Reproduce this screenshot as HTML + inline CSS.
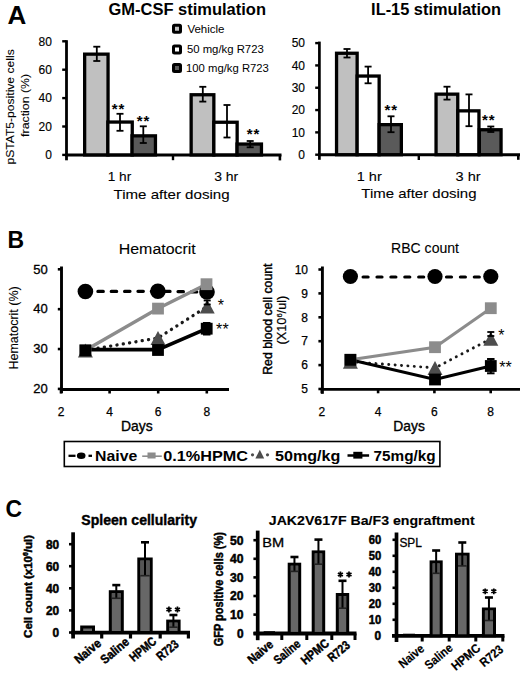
<!DOCTYPE html>
<html><head><meta charset="utf-8"><style>
html,body{margin:0;padding:0;background:#fff;}
svg{display:block;}
text{font-family:"Liberation Sans", sans-serif;}
</style></head><body>
<svg width="520" height="680" viewBox="0 0 520 680" font-family='"Liberation Sans", sans-serif'>
<rect width="520" height="680" fill="#fff"/>
<text x="7.60" y="23.80" font-size="26" font-weight="bold" textLength="18.80" lengthAdjust="spacingAndGlyphs" >A</text>
<text x="108.50" y="14.60" font-size="16" font-weight="bold" textLength="157.50" lengthAdjust="spacingAndGlyphs" >GM-CSF stimulation</text>
<text x="371.10" y="14.60" font-size="16" font-weight="bold" textLength="130.00" lengthAdjust="spacingAndGlyphs" >IL-15 stimulation</text>
<rect x="173.50" y="25.20" width="7.00" height="7.00" fill="#c0c0c0" rx="1" stroke="#000" stroke-width="3"/>
<rect x="173.50" y="45.90" width="7.00" height="7.00" fill="#fff" rx="1" stroke="#000" stroke-width="3"/>
<rect x="173.50" y="64.60" width="7.00" height="7.00" fill="#5a5a5a" rx="1" stroke="#000" stroke-width="3"/>
<text x="187.40" y="33.10" font-size="11.5" textLength="37.10" lengthAdjust="spacingAndGlyphs" >Vehicle</text>
<text x="186.90" y="53.30" font-size="11.5" textLength="76.90" lengthAdjust="spacingAndGlyphs" >50 mg/kg R723</text>
<text x="186.00" y="72.20" font-size="11.5" textLength="82.90" lengthAdjust="spacingAndGlyphs" >100 mg/kg R723</text>
<line x1="66.50" y1="40.20" x2="66.50" y2="160.30" stroke="#000" stroke-width="2.8" />
<line x1="65.00" y1="154.90" x2="281.50" y2="154.90" stroke="#000" stroke-width="3" />
<line x1="279.90" y1="154.90" x2="279.90" y2="160.40" stroke="#000" stroke-width="2.6" />
<line x1="173.00" y1="154.90" x2="173.00" y2="160.20" stroke="#000" stroke-width="2.4" />
<line x1="62.20" y1="154.90" x2="66.50" y2="154.90" stroke="#000" stroke-width="2.4" />
<text x="51.90" y="159.20" font-size="12" stroke="#000" stroke-width="0.15" text-anchor="end" >0</text>
<line x1="62.20" y1="126.50" x2="66.50" y2="126.50" stroke="#000" stroke-width="2.4" />
<text x="51.90" y="130.80" font-size="12" stroke="#000" stroke-width="0.15" text-anchor="end" >20</text>
<line x1="62.20" y1="98.10" x2="66.50" y2="98.10" stroke="#000" stroke-width="2.4" />
<text x="51.90" y="102.40" font-size="12" stroke="#000" stroke-width="0.15" text-anchor="end" >40</text>
<line x1="62.20" y1="69.70" x2="66.50" y2="69.70" stroke="#000" stroke-width="2.4" />
<text x="51.90" y="74.00" font-size="12" stroke="#000" stroke-width="0.15" text-anchor="end" >60</text>
<line x1="62.20" y1="41.30" x2="66.50" y2="41.30" stroke="#000" stroke-width="2.4" />
<text x="51.90" y="45.60" font-size="12" stroke="#000" stroke-width="0.15" text-anchor="end" >80</text>
<rect x="84.65" y="54.15" width="23.40" height="100.75" fill="#c0c0c0" stroke="#000" stroke-width="3.3"/>
<rect x="107.85" y="122.05" width="24.40" height="32.85" fill="#fff" stroke="#000" stroke-width="3.3"/>
<rect x="132.05" y="135.85" width="23.40" height="19.05" fill="#5a5a5a" stroke="#000" stroke-width="3.3"/>
<rect x="191.15" y="94.75" width="22.70" height="60.15" fill="#c0c0c0" stroke="#000" stroke-width="3.3"/>
<rect x="213.85" y="122.25" width="23.30" height="32.65" fill="#fff" stroke="#000" stroke-width="3.3"/>
<rect x="237.05" y="144.05" width="24.40" height="10.85" fill="#5a5a5a" stroke="#000" stroke-width="3.3"/>
<line x1="96.80" y1="46.70" x2="96.80" y2="61.00" stroke="#000" stroke-width="1.8" />
<line x1="93.30" y1="46.70" x2="100.30" y2="46.70" stroke="#000" stroke-width="1.8" />
<line x1="93.30" y1="61.00" x2="100.30" y2="61.00" stroke="#000" stroke-width="1.8" />
<line x1="120.00" y1="113.80" x2="120.00" y2="130.80" stroke="#000" stroke-width="1.8" />
<line x1="116.50" y1="113.80" x2="123.50" y2="113.80" stroke="#000" stroke-width="1.8" />
<line x1="116.50" y1="130.80" x2="123.50" y2="130.80" stroke="#000" stroke-width="1.8" />
<line x1="143.30" y1="126.30" x2="143.30" y2="143.00" stroke="#000" stroke-width="1.8" />
<line x1="139.80" y1="126.30" x2="146.80" y2="126.30" stroke="#000" stroke-width="1.8" />
<line x1="139.80" y1="143.00" x2="146.80" y2="143.00" stroke="#000" stroke-width="1.8" />
<line x1="202.80" y1="86.80" x2="202.80" y2="101.60" stroke="#000" stroke-width="1.8" />
<line x1="199.30" y1="86.80" x2="206.30" y2="86.80" stroke="#000" stroke-width="1.8" />
<line x1="199.30" y1="101.60" x2="206.30" y2="101.60" stroke="#000" stroke-width="1.8" />
<line x1="227.00" y1="105.00" x2="227.00" y2="137.50" stroke="#000" stroke-width="1.8" />
<line x1="223.50" y1="105.00" x2="230.50" y2="105.00" stroke="#000" stroke-width="1.8" />
<line x1="223.50" y1="137.50" x2="230.50" y2="137.50" stroke="#000" stroke-width="1.8" />
<line x1="250.20" y1="141.00" x2="250.20" y2="147.30" stroke="#000" stroke-width="1.8" />
<line x1="246.70" y1="141.00" x2="253.70" y2="141.00" stroke="#000" stroke-width="1.8" />
<line x1="246.70" y1="147.30" x2="253.70" y2="147.30" stroke="#000" stroke-width="1.8" />
<text x="114.60" y="113.80" font-size="15" font-weight="bold" text-anchor="middle" >*</text>
<text x="121.50" y="113.80" font-size="15" font-weight="bold" text-anchor="middle" >*</text>
<text x="139.55" y="125.70" font-size="15" font-weight="bold" text-anchor="middle" >*</text>
<text x="146.45" y="125.70" font-size="15" font-weight="bold" text-anchor="middle" >*</text>
<text x="249.55" y="138.70" font-size="15" font-weight="bold" text-anchor="middle" >*</text>
<text x="256.45" y="138.70" font-size="15" font-weight="bold" text-anchor="middle" >*</text>
<text x="107.70" y="181.00" font-size="13" stroke="#000" stroke-width="0.1" textLength="23.60" lengthAdjust="spacingAndGlyphs" >1 hr</text>
<text x="214.20" y="181.00" font-size="13" stroke="#000" stroke-width="0.1" textLength="24.10" lengthAdjust="spacingAndGlyphs" >3 hr</text>
<text x="113.50" y="198.50" font-size="13.5" stroke="#000" stroke-width="0.1" textLength="116.10" lengthAdjust="spacingAndGlyphs" >Time after dosing</text>
<text x="0" y="0" font-size="11.7" stroke="#000" stroke-width="0.1" textLength="115.30" lengthAdjust="spacingAndGlyphs" transform="translate(13.90,164.60) rotate(-90)" >pSTAT5-positive cells</text>
<text x="0" y="0" font-size="11.7" stroke="#000" stroke-width="0.1" textLength="63.00" lengthAdjust="spacingAndGlyphs" transform="translate(29.20,136.90) rotate(-90)" >fraction (%)</text>
<line x1="319.40" y1="41.60" x2="319.40" y2="159.80" stroke="#000" stroke-width="2.7" />
<line x1="318.00" y1="154.70" x2="520.00" y2="154.70" stroke="#000" stroke-width="3" />
<line x1="518.30" y1="154.70" x2="518.30" y2="159.80" stroke="#000" stroke-width="2.6" />
<line x1="418.80" y1="154.70" x2="418.80" y2="160.00" stroke="#000" stroke-width="2.4" />
<line x1="315.20" y1="154.70" x2="319.40" y2="154.70" stroke="#000" stroke-width="2.4" />
<text x="305.00" y="159.00" font-size="12" stroke="#000" stroke-width="0.15" text-anchor="end" >0</text>
<line x1="315.20" y1="132.38" x2="319.40" y2="132.38" stroke="#000" stroke-width="2.4" />
<text x="305.00" y="136.68" font-size="12" stroke="#000" stroke-width="0.15" text-anchor="end" >10</text>
<line x1="315.20" y1="110.06" x2="319.40" y2="110.06" stroke="#000" stroke-width="2.4" />
<text x="305.00" y="114.36" font-size="12" stroke="#000" stroke-width="0.15" text-anchor="end" >20</text>
<line x1="315.20" y1="87.74" x2="319.40" y2="87.74" stroke="#000" stroke-width="2.4" />
<text x="305.00" y="92.04" font-size="12" stroke="#000" stroke-width="0.15" text-anchor="end" >30</text>
<line x1="315.20" y1="65.42" x2="319.40" y2="65.42" stroke="#000" stroke-width="2.4" />
<text x="305.00" y="69.72" font-size="12" stroke="#000" stroke-width="0.15" text-anchor="end" >40</text>
<line x1="315.20" y1="43.10" x2="319.40" y2="43.10" stroke="#000" stroke-width="2.4" />
<text x="305.00" y="47.40" font-size="12" stroke="#000" stroke-width="0.15" text-anchor="end" >50</text>
<rect x="336.55" y="53.25" width="20.60" height="101.45" fill="#c0c0c0" stroke="#000" stroke-width="3.3"/>
<rect x="357.15" y="76.05" width="22.00" height="78.65" fill="#fff" stroke="#000" stroke-width="3.3"/>
<rect x="379.15" y="124.65" width="22.20" height="30.05" fill="#5a5a5a" stroke="#000" stroke-width="3.3"/>
<rect x="436.05" y="94.15" width="21.70" height="60.55" fill="#c0c0c0" stroke="#000" stroke-width="3.3"/>
<rect x="457.85" y="110.85" width="21.10" height="43.85" fill="#fff" stroke="#000" stroke-width="3.3"/>
<rect x="479.35" y="129.75" width="21.70" height="24.95" fill="#5a5a5a" stroke="#000" stroke-width="3.3"/>
<line x1="347.00" y1="49.00" x2="347.00" y2="57.50" stroke="#000" stroke-width="1.8" />
<line x1="343.50" y1="49.00" x2="350.50" y2="49.00" stroke="#000" stroke-width="1.8" />
<line x1="343.50" y1="57.50" x2="350.50" y2="57.50" stroke="#000" stroke-width="1.8" />
<line x1="368.10" y1="66.60" x2="368.10" y2="83.30" stroke="#000" stroke-width="1.8" />
<line x1="364.60" y1="66.60" x2="371.60" y2="66.60" stroke="#000" stroke-width="1.8" />
<line x1="364.60" y1="83.30" x2="371.60" y2="83.30" stroke="#000" stroke-width="1.8" />
<line x1="391.00" y1="116.30" x2="391.00" y2="132.20" stroke="#000" stroke-width="1.8" />
<line x1="387.50" y1="116.30" x2="394.50" y2="116.30" stroke="#000" stroke-width="1.8" />
<line x1="387.50" y1="132.20" x2="394.50" y2="132.20" stroke="#000" stroke-width="1.8" />
<line x1="447.00" y1="86.70" x2="447.00" y2="99.60" stroke="#000" stroke-width="1.8" />
<line x1="443.50" y1="86.70" x2="450.50" y2="86.70" stroke="#000" stroke-width="1.8" />
<line x1="443.50" y1="99.60" x2="450.50" y2="99.60" stroke="#000" stroke-width="1.8" />
<line x1="469.00" y1="94.40" x2="469.00" y2="126.20" stroke="#000" stroke-width="1.8" />
<line x1="465.50" y1="94.40" x2="472.50" y2="94.40" stroke="#000" stroke-width="1.8" />
<line x1="465.50" y1="126.20" x2="472.50" y2="126.20" stroke="#000" stroke-width="1.8" />
<line x1="490.80" y1="126.50" x2="490.80" y2="132.00" stroke="#000" stroke-width="1.8" />
<line x1="487.30" y1="126.50" x2="494.30" y2="126.50" stroke="#000" stroke-width="1.8" />
<line x1="487.30" y1="132.00" x2="494.30" y2="132.00" stroke="#000" stroke-width="1.8" />
<text x="387.35" y="115.20" font-size="15" font-weight="bold" text-anchor="middle" >*</text>
<text x="394.25" y="115.20" font-size="15" font-weight="bold" text-anchor="middle" >*</text>
<text x="484.85" y="125.40" font-size="15" font-weight="bold" text-anchor="middle" >*</text>
<text x="491.75" y="125.40" font-size="15" font-weight="bold" text-anchor="middle" >*</text>
<text x="356.70" y="181.00" font-size="13" stroke="#000" stroke-width="0.1" textLength="25.10" lengthAdjust="spacingAndGlyphs" >1 hr</text>
<text x="455.50" y="181.00" font-size="13" stroke="#000" stroke-width="0.1" textLength="25.10" lengthAdjust="spacingAndGlyphs" >3 hr</text>
<text x="361.30" y="198.20" font-size="13.5" stroke="#000" stroke-width="0.1" textLength="115.20" lengthAdjust="spacingAndGlyphs" >Time after dosing</text>
<text x="7.40" y="247.50" font-size="24" font-weight="bold" textLength="16.60" lengthAdjust="spacingAndGlyphs" >B</text>
<text x="118.75" y="254.30" font-size="14" stroke="#000" stroke-width="0.1" textLength="77.00" lengthAdjust="spacingAndGlyphs" >Hematocrit</text>
<line x1="61.50" y1="266.50" x2="61.50" y2="393.20" stroke="#000" stroke-width="2.9" />
<line x1="60.00" y1="389.50" x2="229.00" y2="389.50" stroke="#000" stroke-width="2.9" />
<line x1="57.80" y1="388.91" x2="61.50" y2="388.91" stroke="#000" stroke-width="2.6" />
<text x="47.80" y="393.11" font-size="12" stroke="#000" stroke-width="0.3" textLength="14.50" lengthAdjust="spacingAndGlyphs" text-anchor="end" >20</text>
<line x1="57.80" y1="349.04" x2="61.50" y2="349.04" stroke="#000" stroke-width="2.6" />
<text x="47.80" y="353.24" font-size="12" stroke="#000" stroke-width="0.3" textLength="14.50" lengthAdjust="spacingAndGlyphs" text-anchor="end" >30</text>
<line x1="57.80" y1="309.17" x2="61.50" y2="309.17" stroke="#000" stroke-width="2.6" />
<text x="47.80" y="313.37" font-size="12" stroke="#000" stroke-width="0.3" textLength="14.50" lengthAdjust="spacingAndGlyphs" text-anchor="end" >40</text>
<line x1="57.80" y1="269.30" x2="61.50" y2="269.30" stroke="#000" stroke-width="2.6" />
<text x="47.80" y="273.50" font-size="12" stroke="#000" stroke-width="0.3" textLength="14.50" lengthAdjust="spacingAndGlyphs" text-anchor="end" >50</text>
<line x1="61.00" y1="389.50" x2="61.00" y2="393.50" stroke="#000" stroke-width="2.6" />
<text x="61.00" y="416.20" font-size="12" stroke="#000" stroke-width="0.25" text-anchor="middle" >2</text>
<line x1="109.60" y1="389.50" x2="109.60" y2="393.50" stroke="#000" stroke-width="2.6" />
<text x="109.60" y="416.20" font-size="12" stroke="#000" stroke-width="0.25" text-anchor="middle" >4</text>
<line x1="158.20" y1="389.50" x2="158.20" y2="393.50" stroke="#000" stroke-width="2.6" />
<text x="158.20" y="416.20" font-size="12" stroke="#000" stroke-width="0.25" text-anchor="middle" >6</text>
<line x1="206.80" y1="389.50" x2="206.80" y2="393.50" stroke="#000" stroke-width="2.6" />
<text x="206.80" y="416.20" font-size="12" stroke="#000" stroke-width="0.25" text-anchor="middle" >8</text>
<text x="120.90" y="431.40" font-size="14" stroke="#000" stroke-width="0.35" textLength="31.70" lengthAdjust="spacingAndGlyphs" >Days</text>
<text x="0" y="0" font-size="12" stroke="#000" stroke-width="0.1" textLength="83.20" lengthAdjust="spacingAndGlyphs" transform="translate(17.80,369.50) rotate(-90)" >Hematocrit (%)</text>
<polyline points="85.40,291.50 157.90,291.30 207.00,292.00" fill="none" stroke="#000" stroke-width="3.2" stroke-dasharray="5.4,7.95" stroke-dashoffset="0.85" stroke-linecap="round"/>
<polyline points="85.40,350.30 158.00,308.60 206.50,284.20" fill="none" stroke="#8c8c8c" stroke-width="3.4" />
<polyline points="85.40,350.40 158.00,338.00 207.20,306.50" fill="none" stroke="#1a1a1a" stroke-width="3.3" stroke-dasharray="0.1,6.3" stroke-linecap="round"/>
<polyline points="85.40,349.60 158.00,349.60 206.70,328.70" fill="none" stroke="#000" stroke-width="3.6" />
<circle cx="85.40" cy="291.50" r="7.8" fill="#000"/>
<circle cx="157.90" cy="291.30" r="7.8" fill="#000"/>
<circle cx="207.00" cy="292.00" r="7.8" fill="#000"/>
<rect x="79.50" y="344.40" width="11.80" height="11.80" fill="#8c8c8c"/>
<rect x="152.10" y="302.70" width="11.80" height="11.80" fill="#8c8c8c"/>
<rect x="200.60" y="278.30" width="11.80" height="11.80" fill="#8c8c8c"/>
<polygon points="77.90,357.40 92.90,357.40 85.40,343.40" fill="#4d4d4d"/>
<polygon points="150.50,345.00 165.50,345.00 158.00,331.00" fill="#4d4d4d"/>
<polygon points="199.70,313.50 214.70,313.50 207.20,299.50" fill="#4d4d4d"/>
<rect x="79.50" y="344.50" width="11.80" height="11.80" fill="#000"/>
<rect x="152.10" y="344.10" width="11.80" height="11.80" fill="#000"/>
<rect x="200.80" y="322.80" width="11.80" height="11.80" fill="#000"/>
<line x1="206.70" y1="323.00" x2="206.70" y2="334.50" stroke="#000" stroke-width="2.0" />
<line x1="202.95" y1="323.00" x2="210.45" y2="323.00" stroke="#000" stroke-width="2.0" />
<line x1="202.95" y1="334.50" x2="210.45" y2="334.50" stroke="#000" stroke-width="2.0" />
<line x1="207.20" y1="300.50" x2="207.20" y2="304.50" stroke="#000" stroke-width="1.8" />
<line x1="203.70" y1="300.50" x2="210.70" y2="300.50" stroke="#000" stroke-width="1.8" />
<line x1="203.70" y1="304.50" x2="210.70" y2="304.50" stroke="#000" stroke-width="1.8" />
<text x="220.85" y="310.91" font-size="16" text-anchor="middle" >*</text>
<text x="219.15" y="334.56" font-size="16" text-anchor="middle" >*</text>
<text x="225.55" y="334.56" font-size="16" text-anchor="middle" >*</text>
<line x1="322.40" y1="266.50" x2="322.40" y2="393.80" stroke="#000" stroke-width="2.9" />
<line x1="321.00" y1="389.30" x2="520.00" y2="389.30" stroke="#000" stroke-width="2.8" />
<line x1="318.40" y1="389.00" x2="322.40" y2="389.00" stroke="#000" stroke-width="2.6" />
<text x="308.00" y="393.20" font-size="12" stroke="#000" stroke-width="0.25" text-anchor="end" >5</text>
<line x1="318.40" y1="365.10" x2="322.40" y2="365.10" stroke="#000" stroke-width="2.6" />
<text x="308.00" y="369.30" font-size="12" stroke="#000" stroke-width="0.25" text-anchor="end" >6</text>
<line x1="318.40" y1="341.20" x2="322.40" y2="341.20" stroke="#000" stroke-width="2.6" />
<text x="308.00" y="345.40" font-size="12" stroke="#000" stroke-width="0.25" text-anchor="end" >7</text>
<line x1="318.40" y1="317.30" x2="322.40" y2="317.30" stroke="#000" stroke-width="2.6" />
<text x="308.00" y="321.50" font-size="12" stroke="#000" stroke-width="0.25" text-anchor="end" >8</text>
<line x1="318.40" y1="293.40" x2="322.40" y2="293.40" stroke="#000" stroke-width="2.6" />
<text x="308.00" y="297.60" font-size="12" stroke="#000" stroke-width="0.25" text-anchor="end" >9</text>
<line x1="318.40" y1="269.50" x2="322.40" y2="269.50" stroke="#000" stroke-width="2.6" />
<text x="308.00" y="273.70" font-size="12" stroke="#000" stroke-width="0.25" text-anchor="end" >10</text>
<line x1="321.80" y1="389.30" x2="321.80" y2="393.30" stroke="#000" stroke-width="2.6" />
<text x="321.80" y="416.20" font-size="12" stroke="#000" stroke-width="0.25" text-anchor="middle" >2</text>
<line x1="378.10" y1="389.30" x2="378.10" y2="393.30" stroke="#000" stroke-width="2.6" />
<text x="378.10" y="416.20" font-size="12" stroke="#000" stroke-width="0.25" text-anchor="middle" >4</text>
<line x1="434.40" y1="389.30" x2="434.40" y2="393.30" stroke="#000" stroke-width="2.6" />
<text x="434.40" y="416.20" font-size="12" stroke="#000" stroke-width="0.25" text-anchor="middle" >6</text>
<line x1="490.70" y1="389.30" x2="490.70" y2="393.30" stroke="#000" stroke-width="2.6" />
<text x="490.70" y="416.20" font-size="12" stroke="#000" stroke-width="0.25" text-anchor="middle" >8</text>
<text x="393.30" y="431.20" font-size="14" stroke="#000" stroke-width="0.35" textLength="31.50" lengthAdjust="spacingAndGlyphs" >Days</text>
<text x="391.00" y="252.50" font-size="14" stroke="#000" stroke-width="0.1" textLength="68.00" lengthAdjust="spacingAndGlyphs" >RBC count</text>
<text x="0" y="0" font-size="12" stroke="#000" stroke-width="0.4" textLength="111.30" lengthAdjust="spacingAndGlyphs" transform="translate(271.80,374.80) rotate(-90)" >Red blood cell count</text>
<text x="0" y="0" font-size="12" stroke="#000" stroke-width="0.2" transform="translate(285.60,344.60) rotate(-90)" textLength="49" lengthAdjust="spacingAndGlyphs">(X10<tspan font-size="7" dy="-4">6</tspan><tspan dy="4">/ul)</tspan></text>
<polyline points="350.40,277.00 435.00,277.00 490.80,277.00" fill="none" stroke="#000" stroke-width="3.2" stroke-dasharray="5.0,8.9" stroke-dashoffset="1.2" stroke-linecap="round"/>
<polyline points="350.40,359.80 435.00,347.20 490.80,308.20" fill="none" stroke="#8c8c8c" stroke-width="3.0" />
<polyline points="350.40,361.70 435.00,367.90 490.80,338.80" fill="none" stroke="#1a1a1a" stroke-width="2.9" stroke-dasharray="0.1,6.3" stroke-linecap="round"/>
<polyline points="350.40,359.80 435.00,379.50 490.80,366.00" fill="none" stroke="#000" stroke-width="3.1" />
<circle cx="350.40" cy="276.50" r="7.6" fill="#000"/>
<circle cx="435.00" cy="276.50" r="7.6" fill="#000"/>
<circle cx="490.80" cy="276.50" r="7.6" fill="#000"/>
<rect x="344.50" y="353.90" width="11.80" height="11.80" fill="#8c8c8c"/>
<rect x="429.10" y="341.30" width="11.80" height="11.80" fill="#8c8c8c"/>
<rect x="484.90" y="302.30" width="11.80" height="11.80" fill="#8c8c8c"/>
<polygon points="342.90,368.70 357.90,368.70 350.40,354.70" fill="#4d4d4d"/>
<polygon points="427.50,374.90 442.50,374.90 435.00,360.90" fill="#4d4d4d"/>
<polygon points="483.30,345.80 498.30,345.80 490.80,331.80" fill="#4d4d4d"/>
<rect x="344.50" y="353.90" width="11.80" height="11.80" fill="#000"/>
<rect x="429.10" y="373.60" width="11.80" height="11.80" fill="#000"/>
<rect x="484.90" y="360.10" width="11.80" height="11.80" fill="#000"/>
<line x1="490.80" y1="359.00" x2="490.80" y2="373.30" stroke="#000" stroke-width="2.0" />
<line x1="487.05" y1="359.00" x2="494.55" y2="359.00" stroke="#000" stroke-width="2.0" />
<line x1="487.05" y1="373.30" x2="494.55" y2="373.30" stroke="#000" stroke-width="2.0" />
<line x1="490.80" y1="332.00" x2="490.80" y2="336.00" stroke="#000" stroke-width="1.8" />
<line x1="487.30" y1="332.00" x2="494.30" y2="332.00" stroke="#000" stroke-width="1.8" />
<line x1="487.30" y1="336.00" x2="494.30" y2="336.00" stroke="#000" stroke-width="1.8" />
<text x="501.40" y="341.36" font-size="16" text-anchor="middle" >*</text>
<text x="502.30" y="373.16" font-size="16" text-anchor="middle" >*</text>
<text x="508.70" y="373.16" font-size="16" text-anchor="middle" >*</text>
<rect x="64.30" y="441.50" width="375.60" height="25.00" fill="#fff" stroke="#000" stroke-width="1.6"/>
<line x1="68.50" y1="455.80" x2="75.50" y2="455.80" stroke="#000" stroke-width="2.3" />
<ellipse cx="81.2" cy="455.7" rx="4.3" ry="3.2" fill="#000"/>
<line x1="88.50" y1="455.80" x2="92.00" y2="455.80" stroke="#000" stroke-width="2.3" />
<text x="95.10" y="461.20" font-size="15.5" font-weight="bold" textLength="42.20" lengthAdjust="spacingAndGlyphs" >Naive</text>
<line x1="142.20" y1="456.20" x2="161.80" y2="456.20" stroke="#8c8c8c" stroke-width="1.6" />
<rect x="147.50" y="452.50" width="8.10" height="6.00" fill="#8c8c8c"/>
<text x="163.30" y="461.20" font-size="15.5" font-weight="bold" textLength="84.70" lengthAdjust="spacingAndGlyphs" >0.1%HPMC</text>
<circle cx="252.50" cy="454.80" r="1.6" fill="#4d4d4d"/>
<polygon points="255.4,458.5 264.2,458.5 259.8,449.7" fill="#4d4d4d"/>
<circle cx="267.50" cy="454.80" r="1.6" fill="#4d4d4d"/>
<text x="275.00" y="461.20" font-size="15.5" font-weight="bold" textLength="65.40" lengthAdjust="spacingAndGlyphs" >50mg/kg</text>
<line x1="347.50" y1="455.50" x2="369.10" y2="455.50" stroke="#000" stroke-width="2.5" />
<rect x="353.30" y="451.80" width="9.10" height="6.80" fill="#000"/>
<text x="373.50" y="461.20" font-size="15.5" font-weight="bold" textLength="62.10" lengthAdjust="spacingAndGlyphs" >75mg/kg</text>
<text x="5.60" y="517.20" font-size="23" font-weight="bold" textLength="16.60" lengthAdjust="spacingAndGlyphs" >C</text>
<text x="81.30" y="525.20" font-size="14.5" stroke="#000" stroke-width="0.4" font-weight="bold" textLength="115.70" lengthAdjust="spacingAndGlyphs" >Spleen cellularity</text>
<line x1="73.10" y1="532.30" x2="73.10" y2="638.50" stroke="#000" stroke-width="3.7" />
<line x1="71.00" y1="632.70" x2="190.00" y2="632.70" stroke="#000" stroke-width="3.8" />
<line x1="101.70" y1="632.50" x2="101.70" y2="638.50" stroke="#000" stroke-width="3.2" />
<line x1="130.50" y1="632.50" x2="130.50" y2="638.50" stroke="#000" stroke-width="3.2" />
<line x1="160.20" y1="632.50" x2="160.20" y2="638.50" stroke="#000" stroke-width="3.2" />
<line x1="188.40" y1="632.50" x2="188.40" y2="638.50" stroke="#000" stroke-width="3.2" />
<line x1="69.00" y1="544.20" x2="73.00" y2="544.20" stroke="#000" stroke-width="2.6" />
<text x="59.10" y="548.60" font-size="12" stroke="#000" stroke-width="0.5" font-weight="bold" textLength="13.20" lengthAdjust="spacingAndGlyphs" text-anchor="end" >80</text>
<line x1="69.00" y1="566.20" x2="73.00" y2="566.20" stroke="#000" stroke-width="2.6" />
<text x="59.10" y="570.60" font-size="12" stroke="#000" stroke-width="0.5" font-weight="bold" textLength="13.20" lengthAdjust="spacingAndGlyphs" text-anchor="end" >60</text>
<line x1="69.00" y1="588.30" x2="73.00" y2="588.30" stroke="#000" stroke-width="2.6" />
<text x="59.10" y="592.70" font-size="12" stroke="#000" stroke-width="0.5" font-weight="bold" textLength="13.20" lengthAdjust="spacingAndGlyphs" text-anchor="end" >40</text>
<line x1="69.00" y1="610.40" x2="73.00" y2="610.40" stroke="#000" stroke-width="2.6" />
<text x="59.10" y="614.80" font-size="12" stroke="#000" stroke-width="0.5" font-weight="bold" textLength="13.20" lengthAdjust="spacingAndGlyphs" text-anchor="end" >20</text>
<line x1="69.00" y1="632.50" x2="73.00" y2="632.50" stroke="#000" stroke-width="2.6" />
<text x="59.10" y="636.90" font-size="12" stroke="#000" stroke-width="0.5" font-weight="bold" textLength="6.60" lengthAdjust="spacingAndGlyphs" text-anchor="end" >0</text>
<rect x="81.70" y="627.00" width="11.80" height="5.50" fill="#676767" stroke="#000" stroke-width="3.0"/>
<rect x="110.30" y="591.70" width="12.00" height="40.80" fill="#676767" stroke="#000" stroke-width="3.0"/>
<rect x="111.80" y="593.20" width="9.00" height="5.10" fill="#555"/>
<line x1="116.30" y1="585.10" x2="116.30" y2="598.30" stroke="#000" stroke-width="2.0" />
<line x1="112.30" y1="585.10" x2="120.30" y2="585.10" stroke="#000" stroke-width="2.6" />
<line x1="111.80" y1="598.30" x2="120.80" y2="598.30" stroke="#222" stroke-width="1.6" />
<rect x="138.80" y="559.00" width="12.40" height="73.50" fill="#676767" stroke="#000" stroke-width="3.0"/>
<rect x="140.30" y="560.50" width="9.40" height="15.20" fill="#555"/>
<line x1="145.00" y1="542.30" x2="145.00" y2="575.70" stroke="#000" stroke-width="2.0" />
<line x1="141.00" y1="542.30" x2="149.00" y2="542.30" stroke="#000" stroke-width="2.6" />
<line x1="140.30" y1="575.70" x2="149.70" y2="575.70" stroke="#222" stroke-width="1.6" />
<rect x="167.70" y="621.10" width="11.40" height="11.40" fill="#676767" stroke="#000" stroke-width="3.0"/>
<rect x="169.20" y="622.60" width="8.40" height="4.60" fill="#555"/>
<line x1="173.40" y1="615.00" x2="173.40" y2="627.20" stroke="#000" stroke-width="2.0" />
<line x1="169.40" y1="615.00" x2="177.40" y2="615.00" stroke="#000" stroke-width="2.6" />
<line x1="169.20" y1="627.20" x2="177.60" y2="627.20" stroke="#222" stroke-width="1.6" />
<path d="M168.95,606.60L168.95,612.40M166.44,608.05L171.46,610.95M171.46,608.05L166.44,610.95" stroke="#000" stroke-width="1.75" fill="none"/>
<path d="M177.45,606.60L177.45,612.40M174.94,608.05L179.96,610.95M179.96,608.05L174.94,610.95" stroke="#000" stroke-width="1.75" fill="none"/>
<text x="0" y="0" font-size="11.8" stroke="#000" stroke-width="0.5" font-weight="bold" transform="translate(32.30,637.90) rotate(-90)" textLength="103" lengthAdjust="spacingAndGlyphs">Cell count (x10<tspan font-size="7" dy="-4">6</tspan><tspan dy="4">/ul)</tspan></text>
<text x="0" y="0" font-size="12.5" stroke="#000" stroke-width="0.45" font-weight="bold" textLength="30.50" lengthAdjust="spacingAndGlyphs" text-anchor="end" transform="translate(102.00,644.60) rotate(-40)" >Naive</text>
<text x="0" y="0" font-size="12.5" stroke="#000" stroke-width="0.45" font-weight="bold" textLength="33.00" lengthAdjust="spacingAndGlyphs" text-anchor="end" transform="translate(130.00,643.30) rotate(-40)" >Saline</text>
<text x="0" y="0" font-size="12.5" stroke="#000" stroke-width="0.45" font-weight="bold" textLength="30.60" lengthAdjust="spacingAndGlyphs" text-anchor="end" transform="translate(157.30,642.60) rotate(-40)" >HPMC</text>
<text x="0" y="0" font-size="12.5" stroke="#000" stroke-width="0.45" font-weight="bold" textLength="24.40" lengthAdjust="spacingAndGlyphs" text-anchor="end" transform="translate(179.50,645.60) rotate(-40)" >R723</text>
<text x="268.80" y="524.60" font-size="13.5" stroke="#000" stroke-width="0.15" font-weight="bold" textLength="205.80" lengthAdjust="spacingAndGlyphs" >JAK2V617F Ba/F3 engraftment</text>
<line x1="257.70" y1="530.60" x2="257.70" y2="640.20" stroke="#000" stroke-width="3.7" />
<line x1="253.50" y1="633.50" x2="356.50" y2="633.50" stroke="#000" stroke-width="3.8" />
<line x1="281.80" y1="633.40" x2="281.80" y2="640.00" stroke="#000" stroke-width="3.0" />
<line x1="306.80" y1="633.40" x2="306.80" y2="640.00" stroke="#000" stroke-width="3.0" />
<line x1="331.80" y1="633.40" x2="331.80" y2="640.00" stroke="#000" stroke-width="3.0" />
<line x1="355.00" y1="633.40" x2="355.00" y2="640.00" stroke="#000" stroke-width="3.0" />
<line x1="253.40" y1="540.20" x2="257.70" y2="540.20" stroke="#000" stroke-width="2.6" />
<text x="243.50" y="544.60" font-size="12" stroke="#000" stroke-width="0.5" font-weight="bold" textLength="13.50" lengthAdjust="spacingAndGlyphs" text-anchor="end" >50</text>
<line x1="253.40" y1="558.80" x2="257.70" y2="558.80" stroke="#000" stroke-width="2.6" />
<text x="243.50" y="563.20" font-size="12" stroke="#000" stroke-width="0.5" font-weight="bold" textLength="13.50" lengthAdjust="spacingAndGlyphs" text-anchor="end" >40</text>
<line x1="253.40" y1="577.40" x2="257.70" y2="577.40" stroke="#000" stroke-width="2.6" />
<text x="243.50" y="581.80" font-size="12" stroke="#000" stroke-width="0.5" font-weight="bold" textLength="13.50" lengthAdjust="spacingAndGlyphs" text-anchor="end" >30</text>
<line x1="253.40" y1="596.00" x2="257.70" y2="596.00" stroke="#000" stroke-width="2.6" />
<text x="243.50" y="600.40" font-size="12" stroke="#000" stroke-width="0.5" font-weight="bold" textLength="13.50" lengthAdjust="spacingAndGlyphs" text-anchor="end" >20</text>
<line x1="253.40" y1="614.60" x2="257.70" y2="614.60" stroke="#000" stroke-width="2.6" />
<text x="243.50" y="619.00" font-size="12" stroke="#000" stroke-width="0.5" font-weight="bold" textLength="13.50" lengthAdjust="spacingAndGlyphs" text-anchor="end" >10</text>
<line x1="253.40" y1="633.30" x2="257.70" y2="633.30" stroke="#000" stroke-width="2.6" />
<text x="243.50" y="637.70" font-size="12" stroke="#000" stroke-width="0.5" font-weight="bold" textLength="6.60" lengthAdjust="spacingAndGlyphs" text-anchor="end" >0</text>
<line x1="263.70" y1="632.00" x2="275.00" y2="632.00" stroke="#000" stroke-width="1.6" />
<rect x="289.20" y="564.20" width="10.50" height="69.20" fill="#676767" stroke="#000" stroke-width="3.0"/>
<rect x="290.70" y="565.70" width="7.50" height="5.70" fill="#555"/>
<line x1="294.45" y1="557.00" x2="294.45" y2="571.40" stroke="#000" stroke-width="2.0" />
<line x1="290.45" y1="557.00" x2="298.45" y2="557.00" stroke="#000" stroke-width="2.6" />
<line x1="290.70" y1="571.40" x2="298.20" y2="571.40" stroke="#222" stroke-width="1.6" />
<rect x="313.20" y="551.90" width="10.50" height="81.50" fill="#676767" stroke="#000" stroke-width="3.0"/>
<rect x="314.70" y="553.40" width="7.50" height="10.80" fill="#555"/>
<line x1="318.45" y1="539.60" x2="318.45" y2="564.20" stroke="#000" stroke-width="2.0" />
<line x1="314.45" y1="539.60" x2="322.45" y2="539.60" stroke="#000" stroke-width="2.6" />
<line x1="314.70" y1="564.20" x2="322.20" y2="564.20" stroke="#222" stroke-width="1.6" />
<rect x="337.30" y="594.50" width="10.40" height="38.90" fill="#676767" stroke="#000" stroke-width="3.0"/>
<rect x="338.80" y="596.00" width="7.40" height="12.20" fill="#555"/>
<line x1="342.50" y1="580.80" x2="342.50" y2="608.20" stroke="#000" stroke-width="2.0" />
<line x1="338.50" y1="580.80" x2="346.50" y2="580.80" stroke="#000" stroke-width="2.6" />
<line x1="338.80" y1="608.20" x2="346.20" y2="608.20" stroke="#222" stroke-width="1.6" />
<path d="M340.40,571.60L340.40,577.40M337.89,573.05L342.91,575.95M342.91,573.05L337.89,575.95" stroke="#000" stroke-width="1.75" fill="none"/>
<path d="M349.00,571.60L349.00,577.40M346.49,573.05L351.51,575.95M351.51,573.05L346.49,575.95" stroke="#000" stroke-width="1.75" fill="none"/>
<text x="262.30" y="547.00" font-size="13" stroke="#000" stroke-width="0.3" textLength="21.90" lengthAdjust="spacingAndGlyphs" >BM</text>
<text x="0" y="0" font-size="12.5" stroke="#000" stroke-width="0.5" font-weight="bold" textLength="114.00" lengthAdjust="spacingAndGlyphs" transform="translate(223.00,646.20) rotate(-90)" >GFP positive cells (%)</text>
<text x="0" y="0" font-size="12.5" stroke="#000" stroke-width="0.45" font-weight="bold" textLength="29.00" lengthAdjust="spacingAndGlyphs" text-anchor="end" transform="translate(274.10,645.80) rotate(-40)" >Naive</text>
<text x="0" y="0" font-size="12.5" stroke="#000" stroke-width="0.45" font-weight="bold" textLength="30.50" lengthAdjust="spacingAndGlyphs" text-anchor="end" transform="translate(301.40,645.30) rotate(-40)" >Saline</text>
<text x="0" y="0" font-size="12.5" stroke="#000" stroke-width="0.45" font-weight="bold" textLength="32.30" lengthAdjust="spacingAndGlyphs" text-anchor="end" transform="translate(330.00,644.60) rotate(-40)" >HPMC</text>
<text x="0" y="0" font-size="12.5" stroke="#000" stroke-width="0.45" font-weight="bold" textLength="24.70" lengthAdjust="spacingAndGlyphs" text-anchor="end" transform="translate(350.90,646.60) rotate(-40)" >R723</text>
<line x1="396.50" y1="532.50" x2="396.50" y2="642.00" stroke="#000" stroke-width="3.7" />
<line x1="392.00" y1="635.90" x2="504.50" y2="635.90" stroke="#000" stroke-width="3.8" />
<line x1="422.20" y1="635.80" x2="422.20" y2="641.50" stroke="#000" stroke-width="3.0" />
<line x1="449.20" y1="635.80" x2="449.20" y2="641.50" stroke="#000" stroke-width="3.0" />
<line x1="475.80" y1="635.80" x2="475.80" y2="641.50" stroke="#000" stroke-width="3.0" />
<line x1="502.80" y1="635.80" x2="502.80" y2="641.50" stroke="#000" stroke-width="3.0" />
<line x1="392.50" y1="539.80" x2="396.50" y2="539.80" stroke="#000" stroke-width="2.6" />
<text x="381.20" y="544.20" font-size="12" stroke="#000" stroke-width="0.5" font-weight="bold" textLength="12.50" lengthAdjust="spacingAndGlyphs" text-anchor="end" >60</text>
<line x1="392.50" y1="555.80" x2="396.50" y2="555.80" stroke="#000" stroke-width="2.6" />
<text x="381.20" y="560.20" font-size="12" stroke="#000" stroke-width="0.5" font-weight="bold" textLength="12.50" lengthAdjust="spacingAndGlyphs" text-anchor="end" >50</text>
<line x1="392.50" y1="571.80" x2="396.50" y2="571.80" stroke="#000" stroke-width="2.6" />
<text x="381.20" y="576.20" font-size="12" stroke="#000" stroke-width="0.5" font-weight="bold" textLength="12.50" lengthAdjust="spacingAndGlyphs" text-anchor="end" >40</text>
<line x1="392.50" y1="587.80" x2="396.50" y2="587.80" stroke="#000" stroke-width="2.6" />
<text x="381.20" y="592.20" font-size="12" stroke="#000" stroke-width="0.5" font-weight="bold" textLength="12.50" lengthAdjust="spacingAndGlyphs" text-anchor="end" >30</text>
<line x1="392.50" y1="603.80" x2="396.50" y2="603.80" stroke="#000" stroke-width="2.6" />
<text x="381.20" y="608.20" font-size="12" stroke="#000" stroke-width="0.5" font-weight="bold" textLength="12.50" lengthAdjust="spacingAndGlyphs" text-anchor="end" >20</text>
<line x1="392.50" y1="619.80" x2="396.50" y2="619.80" stroke="#000" stroke-width="2.6" />
<text x="381.20" y="624.20" font-size="12" stroke="#000" stroke-width="0.5" font-weight="bold" textLength="12.50" lengthAdjust="spacingAndGlyphs" text-anchor="end" >10</text>
<line x1="392.50" y1="635.80" x2="396.50" y2="635.80" stroke="#000" stroke-width="2.6" />
<text x="381.20" y="640.20" font-size="12" stroke="#000" stroke-width="0.5" font-weight="bold" textLength="6.60" lengthAdjust="spacingAndGlyphs" text-anchor="end" >0</text>
<line x1="403.00" y1="634.50" x2="415.00" y2="634.50" stroke="#000" stroke-width="1.6" />
<rect x="431.10" y="561.90" width="10.10" height="73.90" fill="#676767" stroke="#000" stroke-width="3.0"/>
<rect x="432.60" y="563.40" width="7.10" height="9.90" fill="#555"/>
<line x1="436.15" y1="550.50" x2="436.15" y2="573.30" stroke="#000" stroke-width="2.0" />
<line x1="432.15" y1="550.50" x2="440.15" y2="550.50" stroke="#000" stroke-width="2.6" />
<line x1="432.60" y1="573.30" x2="439.70" y2="573.30" stroke="#222" stroke-width="1.6" />
<rect x="456.50" y="554.20" width="11.60" height="81.60" fill="#676767" stroke="#000" stroke-width="3.0"/>
<rect x="458.00" y="555.70" width="8.60" height="10.20" fill="#555"/>
<line x1="462.30" y1="542.50" x2="462.30" y2="565.90" stroke="#000" stroke-width="2.0" />
<line x1="458.30" y1="542.50" x2="466.30" y2="542.50" stroke="#000" stroke-width="2.6" />
<line x1="458.00" y1="565.90" x2="466.60" y2="565.90" stroke="#222" stroke-width="1.6" />
<rect x="483.40" y="609.00" width="11.10" height="26.80" fill="#676767" stroke="#000" stroke-width="3.0"/>
<rect x="484.90" y="610.50" width="8.10" height="10.00" fill="#555"/>
<line x1="488.95" y1="597.50" x2="488.95" y2="620.50" stroke="#000" stroke-width="2.0" />
<line x1="484.95" y1="597.50" x2="492.95" y2="597.50" stroke="#000" stroke-width="2.6" />
<line x1="484.90" y1="620.50" x2="493.00" y2="620.50" stroke="#222" stroke-width="1.6" />
<path d="M485.20,588.40L485.20,594.20M482.69,589.85L487.71,592.75M487.71,589.85L482.69,592.75" stroke="#000" stroke-width="1.75" fill="none"/>
<path d="M493.80,588.40L493.80,594.20M491.29,589.85L496.31,592.75M496.31,589.85L491.29,592.75" stroke="#000" stroke-width="1.75" fill="none"/>
<text x="399.40" y="547.00" font-size="13" stroke="#000" stroke-width="0.3" textLength="22.50" lengthAdjust="spacingAndGlyphs" >SPL</text>
<text x="0" y="0" font-size="12.5" stroke="#000" stroke-width="0.2" font-weight="bold" textLength="29.00" lengthAdjust="spacingAndGlyphs" text-anchor="end" transform="translate(425.10,650.00) rotate(-40)" >Naive</text>
<text x="0" y="0" font-size="12.5" stroke="#000" stroke-width="0.2" font-weight="bold" textLength="32.20" lengthAdjust="spacingAndGlyphs" text-anchor="end" transform="translate(453.60,649.30) rotate(-40)" >Saline</text>
<text x="0" y="0" font-size="12.5" stroke="#000" stroke-width="0.2" font-weight="bold" textLength="33.60" lengthAdjust="spacingAndGlyphs" text-anchor="end" transform="translate(481.40,649.50) rotate(-40)" >HPMC</text>
<text x="0" y="0" font-size="12.5" stroke="#000" stroke-width="0.2" font-weight="bold" textLength="26.30" lengthAdjust="spacingAndGlyphs" text-anchor="end" transform="translate(504.20,650.70) rotate(-40)" >R723</text>
</svg>
</body></html>
